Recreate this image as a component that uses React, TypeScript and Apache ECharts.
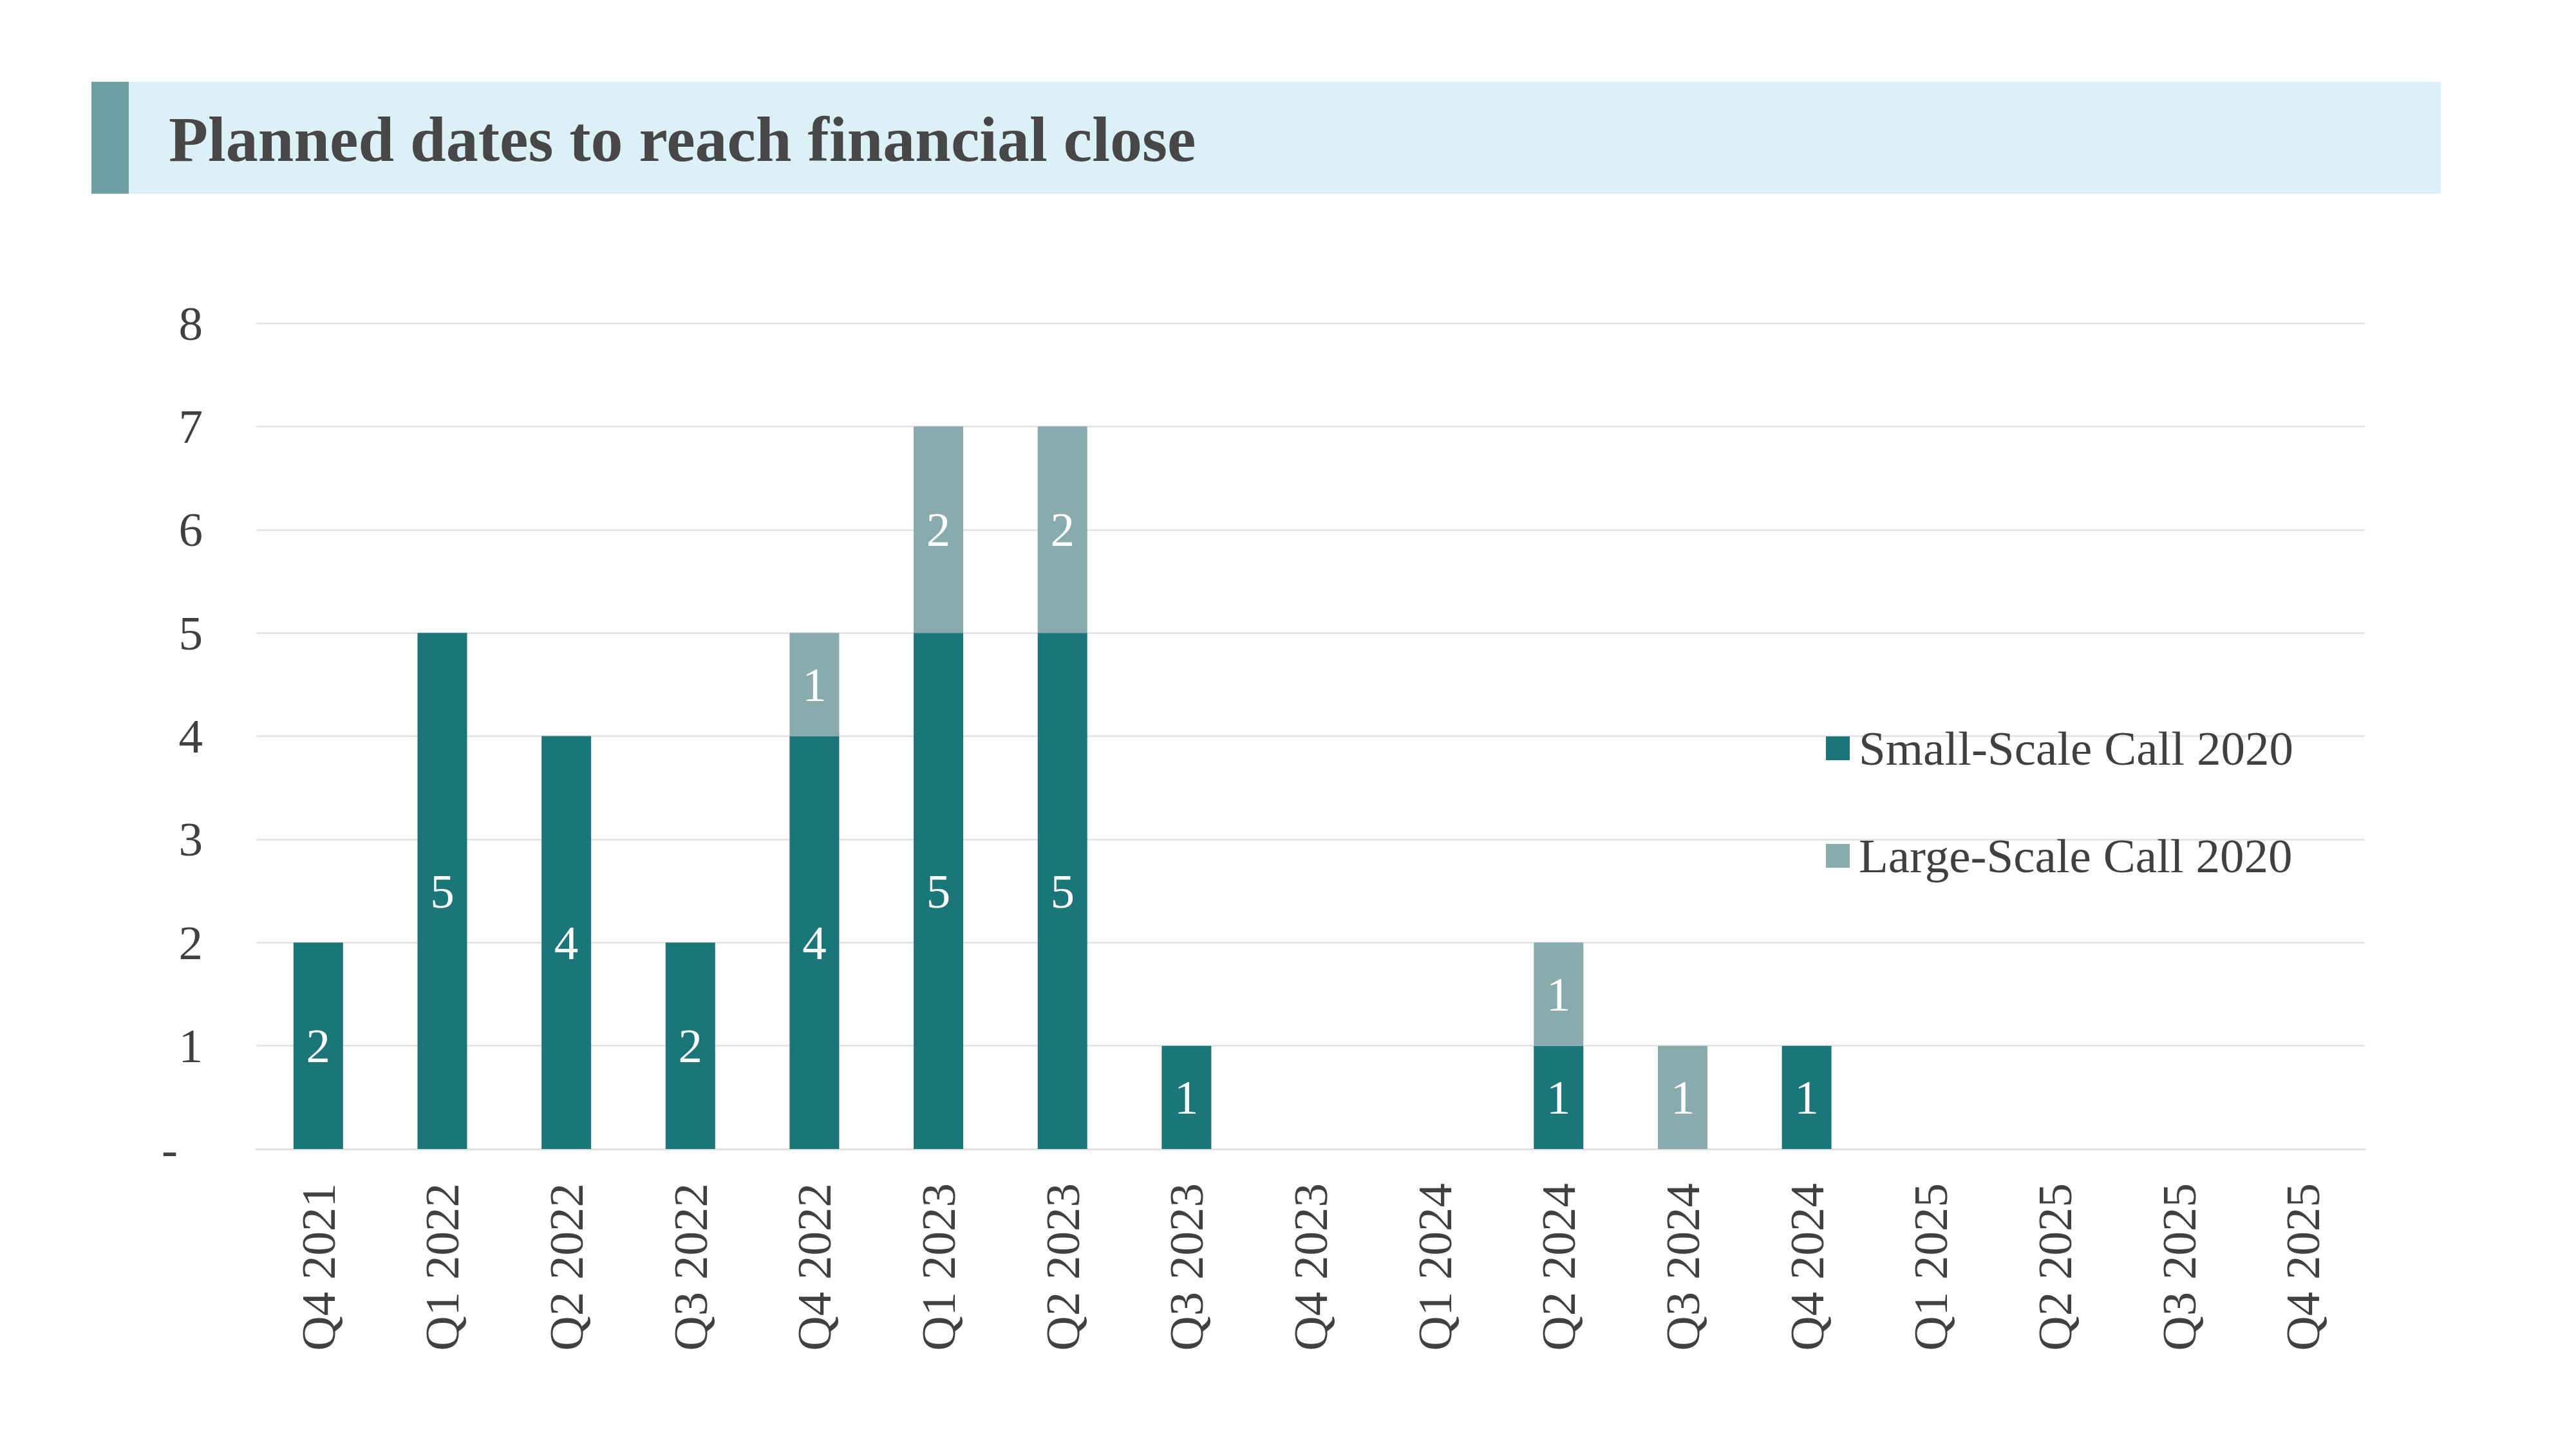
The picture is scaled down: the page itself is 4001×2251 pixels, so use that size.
import React, { useEffect, useRef } from "react";
import * as echarts from "echarts";

const categories = [
  "Q4 2021", "Q1 2022", "Q2 2022", "Q3 2022", "Q4 2022", "Q1 2023", "Q2 2023", "Q3 2023",
  "Q4 2023", "Q1 2024", "Q2 2024", "Q3 2024", "Q4 2024", "Q1 2025", "Q2 2025", "Q3 2025", "Q4 2025",
];
const smallScale = [2, 5, 4, 2, 4, 5, 5, 1, 0, 0, 1, 0, 1, 0, 0, 0, 0];
const largeScale = [0, 0, 0, 0, 1, 2, 2, 0, 0, 0, 1, 1, 0, 0, 0, 0, 0];
const seriesNames = ["Small-Scale Call 2020", "Large-Scale Call 2020"];
const titleText = "Planned dates to reach financial close";

const FONT = "'Times New Roman', 'Liberation Serif', serif";
const TXT = "#404040";
const GRID_COLOR = "#e1e1e1";

export default function App() {
  const ref = useRef<HTMLDivElement>(null);
  useEffect(() => {
    if (!ref.current) return;
    const chart = echarts.init(ref.current, null, { renderer: "svg" });
    const label = {
      show: true,
      position: "inside" as const,
      color: "#ffffff",
      fontFamily: FONT,
      fontSize: 75,
      formatter: (p: any) => (p.value > 0 ? String(p.value) : ""),
    };
    chart.setOption({
      animation: false,
      backgroundColor: "#ffffff",
      textStyle: { fontFamily: FONT },
      graphic: [
        { type: "rect", shape: { x: 142, y: 127, width: 58, height: 174 }, style: { fill: "#6e9fa3" } },
        { type: "rect", shape: { x: 200, y: 127, width: 3591, height: 174 }, style: { fill: "#dcf1f7" } },
        {
          type: "text",
          x: 262,
          y: 216,
          style: {
            text: titleText,
            fill: "#474747",
            font: `bold 100px ${FONT}`,
            verticalAlign: "middle",
            align: "left",
          },
        },
      ],
      legend: {
        orient: "vertical",
        left: 2831,
        top: 1120,
        itemWidth: 37,
        itemHeight: 37,
        itemGap: 92,
        icon: "rect",
        data: seriesNames,
        textStyle: {
          fontFamily: FONT,
          fontSize: 75,
          color: TXT,
          lineHeight: 75,
          padding: [0, 0, 0, 9],
        },
      },
      grid: { left: 398, right: 328, top: 502, bottom: 466, containLabel: false },
      xAxis: {
        type: "category",
        data: categories,
        axisLine: { show: true, lineStyle: { color: GRID_COLOR, width: 3 } },
        axisTick: { show: false },
        axisLabel: {
          rotate: 90,
          margin: 53,
          interval: 0,
          fontFamily: FONT,
          fontSize: 75,
          color: TXT,
        },
      },
      yAxis: {
        type: "value",
        min: 0,
        max: 8,
        interval: 1,
        axisLine: { show: false },
        axisTick: { show: false },
        splitLine: { show: true, lineStyle: { color: GRID_COLOR, width: 2.5 } },
        axisLabel: {
          margin: 83,
          fontFamily: FONT,
          fontSize: 75,
          color: TXT,
          formatter: (v: number) => (v === 0 ? "{z|-}" : String(v)),
          rich: {
            z: { fontFamily: FONT, fontSize: 75, color: TXT, padding: [0, 39, 0, 0] },
          },
        },
      },
      series: [
        {
          name: seriesNames[0],
          type: "bar",
          stack: "total",
          barWidth: 77,
          itemStyle: { color: "#1b7679" },
          label,
          data: smallScale,
        },
        {
          name: seriesNames[1],
          type: "bar",
          stack: "total",
          barWidth: 77,
          itemStyle: { color: "#88abae" },
          label,
          data: largeScale,
        },
      ],
    });
    return () => chart.dispose();
  }, []);
  return (
    <div
      ref={ref}
      style={{ position: "fixed", left: 0, top: 0, width: 4001, height: 2251, background: "#fff" }}
    />
  );
}
